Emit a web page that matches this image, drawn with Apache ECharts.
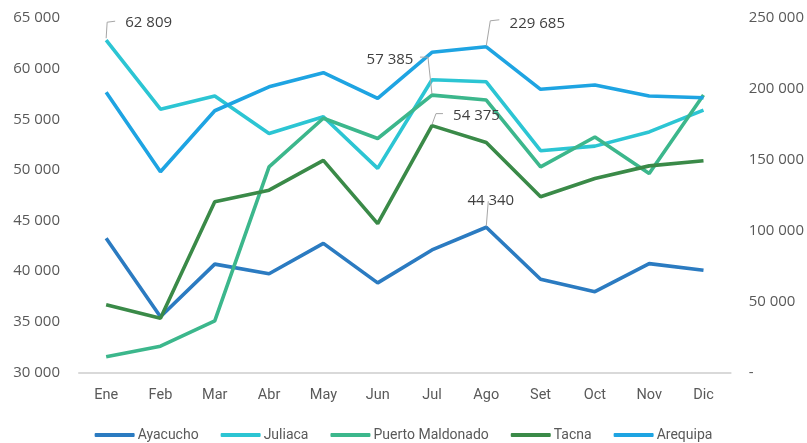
<!DOCTYPE html>
<html>
<head>
<meta charset="utf-8">
<style>
  html, body { margin: 0; padding: 0; background: #fff; }
  #chart { width: 807px; height: 443px; }
</style>
</head>
<body>
<div id="chart"></div>
<script src="https://cdn.jsdelivr.net/npm/echarts@6/dist/echarts.min.js"></script>
<script>
var meses = ['Ene', 'Feb', 'Mar', 'Abr', 'May', 'Jun', 'Jul', 'Ago', 'Set', 'Oct', 'Nov', 'Dic'];
var ayacucho = [43250, 35500, 40700, 39750, 42750, 38850, 42100, 44340, 39200, 37980, 40750, 40100];
var juliaca = [62809, 56000, 57300, 53600, 55250, 50150, 58900, 58700, 51900, 52350, 53750, 55900];
var puerto = [31550, 32600, 35100, 50300, 55100, 53100, 57385, 56900, 50300, 53250, 49650, 57400];
var tacna = [36700, 35350, 46850, 48000, 50950, 44700, 54375, 52700, 47350, 49150, 50400, 50900];
var arequipa = [197600, 141600, 184600, 201500, 211400, 193400, 225800, 229685, 199700, 202700, 195000, 193800];

function fmt(n) {
    return String(n).replace(/\B(?=(\d{3})+(?!\d))/g, ' ');
}

var narrow = 'Roboto';

// punto con etiqueta: indice, offset de la etiqueta
function conEtiqueta(arr, idx, offset) {
    return arr.map(function (v, i) {
        if (i !== idx) return v;
        return {
            value: v,
            label: {
                show: true, position: 'top', offset: offset,
                formatter: function (p) { return fmt(p.value); },
                fontFamily: 'Open Sans', fontSize: 15, color: '#404040'
            }
        };
    });
}

function linea(name, data, color, yIdx) {
    return {
        name: name, type: 'line', data: data, yAxisIndex: yIdx || 0,
        symbol: 'circle', symbolSize: 0, showSymbol: true,
        lineStyle: { width: 3.6, color: color }, itemStyle: { color: color },
        emphasis: { disabled: true }, animation: false
    };
}

var chart = echarts.init(document.getElementById('chart'));
var option = {
    backgroundColor: '#fff',
    grid: { left: 79, right: 74, top: 18, bottom: 70.5 },
    legend: {
        left: 'center', top: 423, icon: 'roundRect', itemWidth: 40, itemHeight: 4, itemGap: 22,
        textStyle: { fontFamily: narrow, fontSize: 14, color: '#595959', padding: [0, 0, 0, -2] },
        data: ['Ayacucho', 'Juliaca', 'Puerto Maldonado', 'Tacna', 'Arequipa']
    },
    xAxis: {
        type: 'category', data: meses, boundaryGap: true,
        axisTick: { show: false },
        axisLine: { lineStyle: { color: '#d9d9d9', width: 2 } },
        axisLabel: { fontFamily: narrow, fontSize: 14.5, color: '#595959', margin: 15 }
    },
    yAxis: [{
        type: 'value', min: 30000, max: 65000, interval: 5000,
        splitLine: { show: false }, axisLine: { show: false }, axisTick: { show: false },
        axisLabel: { fontFamily: 'Open Sans', fontSize: 15, color: '#595959', margin: 19, formatter: fmt }
    }, {
        type: 'value', min: 0, max: 250000, interval: 50000, position: 'right',
        splitLine: { show: false }, axisLine: { show: false }, axisTick: { show: false },
        axisLabel: {
            fontFamily: 'Open Sans', fontSize: 15, color: '#595959', margin: 18,
            formatter: function (v) { return v === 0 ? '-' : fmt(v); }
        }
    }],
    series: [
        linea('Ayacucho', conEtiqueta(ayacucho, 7, [4.5, -14]), '#2b7bc1'),
        linea('Juliaca', conEtiqueta(juliaca, 0, [42.5, -5]), '#2cc5d3'),
        linea('Puerto Maldonado', conEtiqueta(puerto, 6, [-42, -23]), '#3cb78c'),
        linea('Tacna', conEtiqueta(tacna, 6, [44.5, 3]), '#3a8a48'),
        linea('Arequipa', conEtiqueta(arequipa, 7, [51, -11]), '#1ea4e2', 1)
    ]
};
chart.setOption(option);

// líneas guía de las etiquetas
var guias = [
    { s: 1, i: 0, v: juliaca[0], pts: [[0, -2], [1, -18], [9, -19]] },
    { s: 4, i: 7, v: arequipa[7], pts: [[0, -1], [4, -26], [13, -27]] },
    { s: 2, i: 6, v: puerto[6], pts: [[0, -1], [-4, -38], [-12, -38]] },
    { s: 3, i: 6, v: tacna[6], pts: [[0, -1], [4, -12], [11, -12]] },
    { s: 0, i: 7, v: ayacucho[7], pts: [[0, -1], [2, -26]] }
];
var graficos = guias.map(function (g) {
    var p = chart.convertToPixel({ seriesIndex: g.s }, [g.i, g.v]);
    return {
        type: 'polyline', silent: true, z: 10,
        shape: { points: g.pts.map(function (d) { return [p[0] + d[0], p[1] + d[1]]; }) },
        style: { stroke: '#a6a6a6', lineWidth: 1, fill: null }
    };
});
chart.setOption({ graphic: graficos });
</script>
</body>
</html>
